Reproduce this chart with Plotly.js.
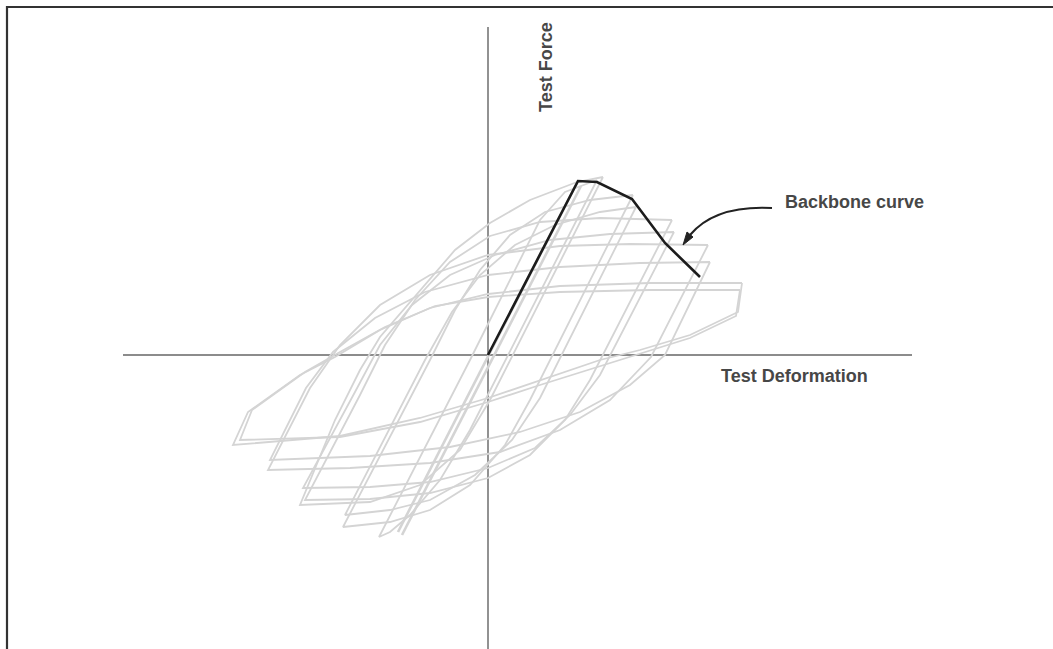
<!DOCTYPE html>
<html><head><meta charset="utf-8">
<script src="https://cdn.plot.ly/plotly-3.0.1.min.js"></script>
<style>html,body{margin:0;padding:0;background:#fff;} #chart{width:1053px;height:649px;}</style>
</head><body><div id="chart"></div>
<script>
// Backbone curve (deformation, force)
const backboneDef = [0, 90, 109, 144, 177, 212];
const backboneForce = [0, 174, 173, 156, 112, 78];

// Hysteresis loops
const elasticDef = [-90, 90];
const elasticForce = [-177, 174];
const elasticBDef = [-86, 93];
const elasticBForce = [-180, 169];

const cycle2Def = [109, 17, -18, -48, -78, -98, -109, -18, 17, 52, 77, 109];
const cycle2Force = [175, -5, -75, -125, -160, -177, -182, -5, 65, 135, 163, 175];

const cycle3Def = [145, 64, 42, 17, -18, -58, -98, -145, -58, -33, -8, 22, 57, 102, 145];
const cycle3Force = [160, 0, -45, -90, -130, -155, -167, -172, -5, 45, 85, 120, 143, 155, 160];
const cycle3bDef = [148, 72, 52, 24, -13, -58, -98, -143, -63, -36, -8, 27, 67, 112, 148];
const cycle3bForce = [148, -2, -43, -85, -120, -145, -155, -160, -5, 43, 80, 110, 130, 143, 148];

const cycle4Def = [184, 102, 77, 42, 0, -58, -118, -183, -128, -103, -73, -38, 2, 52, 112, 184];
const cycle4Force = [135, -25, -65, -100, -123, -138, -144, -145, -40, 10, 55, 93, 119, 133, 137, 135];
const cycle4bDef = [186, 112, 82, 47, 0, -58, -118, -185, -133, -108, -76, -38, 7, 62, 122, 186];
const cycle4bForce = [123, -20, -60, -93, -113, -127, -132, -133, -37, 10, 50, 80, 100, 115, 121, 123];

const cycle5Def = [220, 163, 122, 72, 12, -58, -138, -220, -178, -148, -108, -58, 0, 72, 142, 220];
const cycle5Force = [110, -2, -45, -75, -97, -108, -113, -115, -33, 10, 50, 80, 100, 109, 111, 110];
const cycle5bDef = [222, 177, 142, 92, 32, -38, -118, -218, -182, -155, -113, -63, 0, 72, 152, 222];
const cycle5bForce = [93, 0, -30, -57, -77, -92, -101, -105, -33, 3, 37, 63, 80, 88, 92, 93];

const cycle6Def = [254, 250, 202, 152, 112, 52, 0, -68, -148, -255, -240, -188, -153, -108, -58, 0, 72, 162, 254];
const cycle6Force = [72, 43, 20, 5, -5, -25, -43, -63, -81, -90, -57, -20, -2, 25, 47, 61, 69, 72, 72];
const cycle6bDef = [252, 248, 202, 157, 112, 52, 0, -68, -148, -248, -236, -183, -148, -103, -53, 0, 72, 162, 252];
const cycle6bForce = [65, 39, 17, 3, -11, -30, -47, -67, -82, -85, -55, -17, 3, 28, 49, 58, 63, 65, 65];

const cycle7Def = [115, 27, 2, -28, -68, -118, -188, -153, -128, -108, -68, -33, 2, 42, 89, 115];
const cycle7Force = [178, 5, -45, -95, -130, -147, -150, -65, -15, 18, 65, 105, 132, 155, 173, 178];

// Axis extents
const xAxisDef = [-365, 424];
const yAxisForce = [328, -294];

const axisTitleX = 'Test Deformation';
const axisTitleY = 'Test Force';
const calloutText = 'Backbone curve';

const loopDefs = [elasticDef, elasticBDef, cycle2Def, cycle3Def, cycle3bDef, cycle4Def, cycle4bDef, cycle5Def, cycle5bDef, cycle6Def, cycle6bDef, cycle7Def];
const loopForces = [elasticForce, elasticBForce, cycle2Force, cycle3Force, cycle3bForce, cycle4Force, cycle4bForce, cycle5Force, cycle5bForce, cycle6Force, cycle6bForce, cycle7Force];

const traces = [];
traces.push({x: xAxisDef, y: [0, 0], mode: 'lines', line: {color: '#8c8c8c', width: 2}, hoverinfo: 'skip'});
traces.push({x: [0, 0], y: yAxisForce, mode: 'lines', line: {color: '#6e6e6e', width: 1.5}, hoverinfo: 'skip'});
loopDefs.forEach((d, i) => {
  traces.push({x: d, y: loopForces[i], mode: 'lines', line: {color: 'rgb(212,212,212)', width: i < 2 ? 2.6 : 1.8}, hoverinfo: 'skip'});
});
traces.push({x: backboneDef, y: backboneForce, mode: 'lines', line: {color: '#1c1c1c', width: 2.6}, hoverinfo: 'skip'});

const font = {family: 'Liberation Sans, Arial, sans-serif', size: 18, color: '#474747'};

const layout = {
  width: 1053, height: 649,
  margin: {l: 0, r: 0, t: 0, b: 0},
  paper_bgcolor: '#ffffff', plot_bgcolor: '#ffffff',
  showlegend: false,
  xaxis: {range: [-488, 565], visible: false, fixedrange: true},
  yaxis: {range: [-294, 355], visible: false, fixedrange: true},
  shapes: [
    {type: 'path', xref: 'x', yref: 'y', path: 'M -481,-300 L -481,348 L 570,348', line: {color: '#333333', width: 2.2}},
    {type: 'path', xref: 'x', yref: 'y', path: 'M 284,147 Q 227,150 202,120', line: {color: '#222222', width: 2}},
    {type: 'path', xref: 'x', yref: 'y', path: 'M 195,110 L 205,118 L 199,123 Z', fillcolor: '#222222', line: {color: '#222222', width: 1}}
  ],
  annotations: [
    {x: 58, y: 288, xref: 'x', yref: 'y', text: '<b>' + axisTitleY + '</b>', showarrow: false, textangle: -90, font: font},
    {x: 306, y: -21, xref: 'x', yref: 'y', text: '<b>' + axisTitleX + '</b>', showarrow: false, font: font},
    {x: 366, y: 153, xref: 'x', yref: 'y', text: '<b>' + calloutText + '</b>', showarrow: false, font: font}
  ]
};

Plotly.newPlot('chart', traces, layout, {displayModeBar: false, staticPlot: true});
</script>
</body></html>
